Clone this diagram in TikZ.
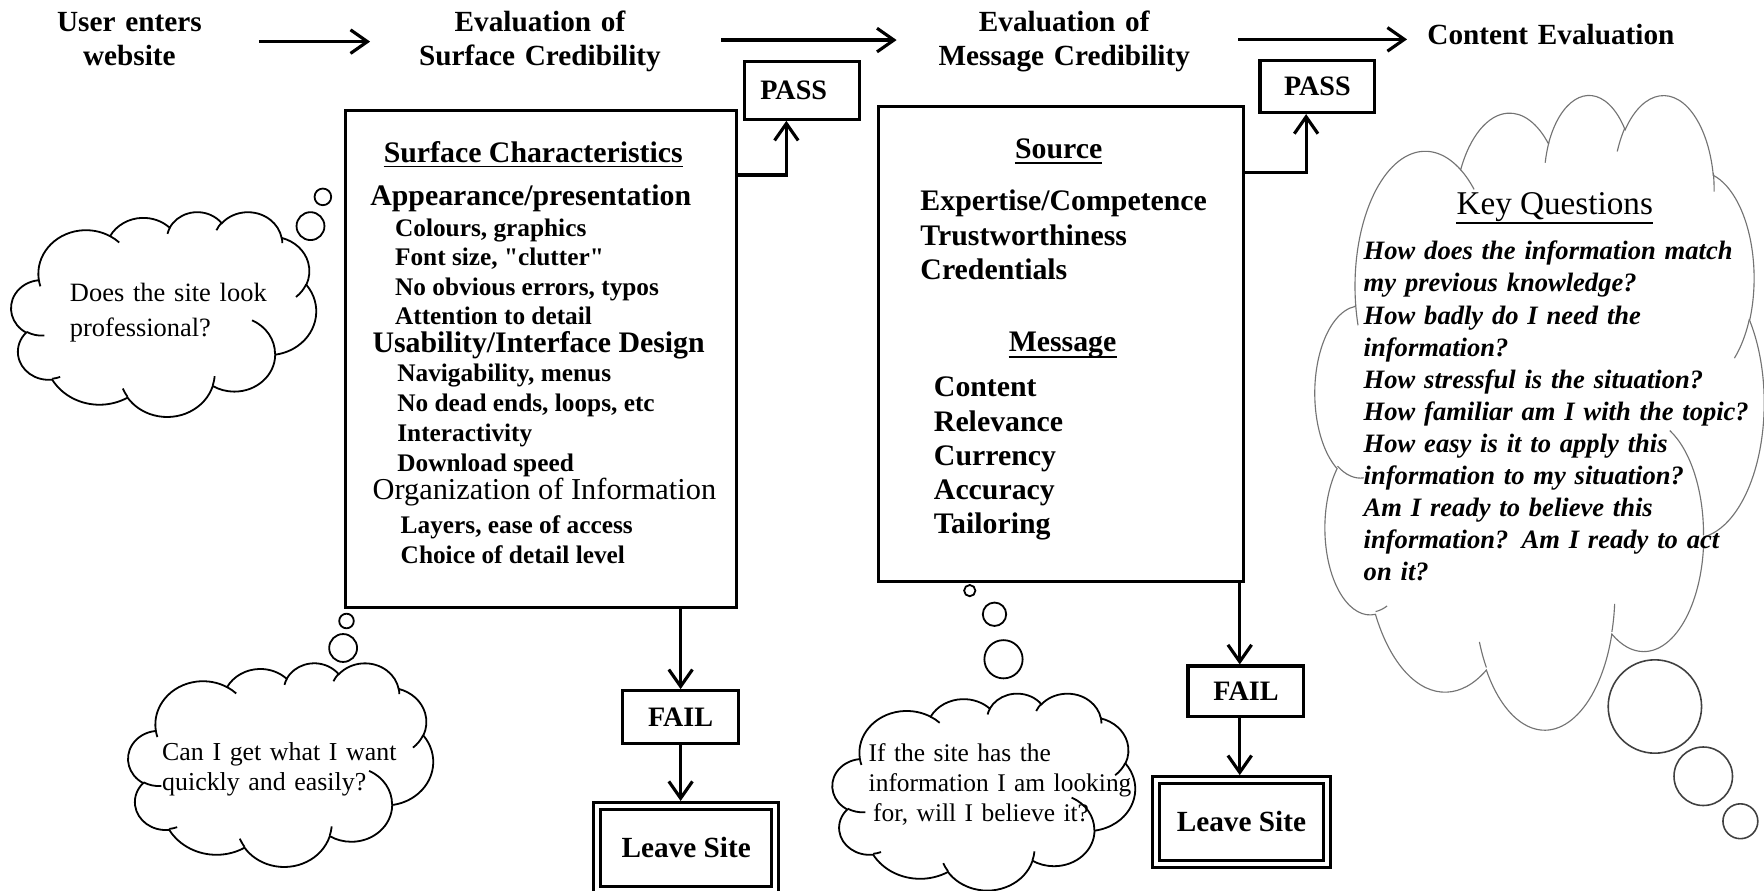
\documentclass[tikz,border=0pt]{standalone}
\usepackage{fontspec}
\setmainfont{Liberation Serif}
\newfontfamily\plainserif{Liberation Serif}[Ligatures=TeXOff]
\usetikzlibrary{arrows.meta}

% One arc of the cloud outline: radii and the visual start/sweep angles (degrees)
% are turned into the parametric angles that TikZ expects.
\newcommand\defcloudarc[5]{%
  \pgfmathsetmacro\ctS{atan2((#2)*sin(#4),(#3)*cos(#4))}%
  \pgfmathsetmacro\ctE{atan2((#2)*sin((#4)+(#5)),(#3)*cos((#4)+(#5)))}%
  \pgfmathsetmacro\ctD{mod(\ctE-\ctS+720,360)}%
  \expandafter\xdef\csname #1\endcsname{arc[start angle=\ctS, delta angle=\ctD, x radius=#2, y radius=#3]}%
}
% outline
\defcloudarc{wcA}{67.53}{91.90}{-190.4875}{123.7805}
\defcloudarc{wcB}{53.33}{72.67}{-144.1024}{89.9452}
\defcloudarc{wcC}{43.65}{59.45}{-145.8079}{99.7230}
\defcloudarc{wcD}{48.57}{65.95}{-130.9861}{117.2417}
\defcloudarc{wcE}{53.33}{72.73}{-78.7089}{109.0269}
\defcloudarc{wcF}{67.75}{92.20}{-46.2673}{130.2690}
\defcloudarc{wcG}{57.85}{78.67}{0.6250}{114.0333}
\defcloudarc{wcH}{67.52}{92.15}{22.4516}{115.1726}
\defcloudarc{wcI}{77.20}{105.43}{66.2426}{75.7110}
\defcloudarc{wcJ}{43.60}{59.18}{-274.9421}{146.7356}
\defcloudarc{wcK}{43.45}{59.45}{-246.8285}{152.5189}
% inner ticks
\defcloudarc{wtA}{43.45}{59.45}{86.7420}{26.4295}
\defcloudarc{wtB}{43.60}{59.18}{73.6105}{11.4475}
\defcloudarc{wtC}{67.52}{92.15}{137.6242}{14.0811}
\defcloudarc{wtD}{67.52}{92.15}{6.4533}{15.9984}
\defcloudarc{wtE}{57.85}{78.67}{-70.2924}{70.9174}
\defcloudarc{wtF}{53.33}{72.73}{30.3180}{27.7515}
\defcloudarc{wtG}{48.57}{65.95}{-13.7443}{14.8589}
\defcloudarc{wtH}{48.57}{65.95}{-149.1815}{18.1954}
\defcloudarc{wtI}{43.65}{59.45}{-163.4943}{17.6864}
\defcloudarc{wtJ}{67.53}{91.90}{-66.7070}{12.3194}
\defcloudarc{wtK}{67.53}{91.90}{157.6544}{11.8582}

% cloud in a 432 x 432 box, placed at (left, top) with the given width and height
\newcommand\cloudshape[5]{%
  \begin{scope}[shift={(#2,#3)},xscale=#4/432,yscale=#5/432,#1]
    \filldraw[fill=white] (39,143.7) \wcA\wcB\wcC\wcD\wcE\wcF\wcG\wcH\wcI\wcJ\wcK -- cycle;
    \draw (46.93,261.77) \wtA (69.28,348.99) \wtB (164.78,390.90) \wtC
          (288.27,347.51) \wtD (341.29,229.54) \wtE (417.98,153.54) \wtF
          (383.24,54.26) \wtG (290.78,39.52) \wtH (221.41,47.20) \wtI
          (140.00,51.92) \wtJ (41.27,157.89) \wtK;
  \end{scope}}

\begin{document}
\begin{tikzpicture}[x=1pt,y=-1pt,
  toplab/.style={anchor=base, inner sep=0pt, text width=300pt, align=center,
                 font=\bfseries\fontsize{26}{30}\selectfont},
  rbox/.style={draw, line width=2.8pt, inner sep=0pt},
  tag/.style={rbox, font=\bfseries\fontsize{25}{30}\selectfont},
  exitbox/.style={draw, line width=2.6pt, double, double distance=3.4pt,
                  outer sep=4.3pt, inner sep=0pt, font=\bfseries\fontsize{26}{30}\selectfont},
  flow/.style={line width=2.8pt, -{Straight Barb[length=15pt,width=21pt]}},
  head/.style={anchor=base west, inner sep=0pt, font=\bfseries\fontsize{26.5}{30}\selectfont},
  sub/.style={anchor=base west, inner sep=0pt, font=\bfseries\fontsize{22.5}{26}\selectfont},
  entry/.style={anchor=base west, inner sep=0pt, font=\bfseries\fontsize{26.5}{30}\selectfont},
  uline/.style={line width=1.6pt},
  thought/.style={anchor=base west, inner sep=0pt, align=left},
  smallcloud/.style={color=black, line width=1.6pt},
  bigcloud/.style={color=black!55, line width=1pt},
  bubble/.style={draw, line width=1.6pt},
  bigbubble/.style={draw=black!75, line width=1.4pt},
]
\path[fill=white] (0,0) rectangle (1568,792);
\useasboundingbox (0,0) rectangle (1568,792);

% ---- thought clouds
\cloudshape{smallcloud}{10}{188}{271}{182}
\cloudshape{smallcloud}{114}{589}{271}{181}
\cloudshape{smallcloud}{740}{616}{269}{175}
\cloudshape{bigcloud}{1169}{83}{399}{564}

\draw[bubble] (287,175) circle[radius=7.4];
\draw[bubble] (276,201) circle[radius=12.4];
\draw[bubble] (308,552) circle[radius=6.5];
\draw[bubble] (305,576) circle[radius=12.4];
\draw[bubble] (862,525) circle[radius=5];
\draw[bubble] (884,546) circle[radius=10.4];
\draw[bubble] (892,586) circle[radius=17];
\draw[bigbubble] (1471,628) circle[radius=41.5];
\draw[bigbubble] (1514,690) circle[radius=26];
\draw[bigbubble] (1547,730) circle[radius=15.5];

\node[thought, text width=220pt, font=\fontsize{23.5}{31}\selectfont] (t1) at (62,268)
  {Does the site look\\professional?};
\node[thought, text width=230pt, font=\fontsize{23}{26.7}\selectfont] (t2) at (144,675.6)
  {Can I get what I want\\quickly and easily?};
\node[thought, text width=240pt, font=\fontsize{22.6}{26.7}\selectfont] (t3) at (772,677)
  {If the site has the\\information I am looking\\\hspace*{4pt}for, will I believe it?};

% ---- stage labels along the top
\node[toplab] (lab1) at (115,28) {User enters\\website};
\node[toplab] (lab2) at (480,28) {Evaluation of\\Surface Credibility};
\node[toplab] (lab3) at (946,28) {Evaluation of\\Message Credibility};
\node[toplab] (lab4) at (1378.6,40) {Content Evaluation};

\coordinate (ta1) at (230,37);    \coordinate (tb1) at (329,37);
\coordinate (ta2) at (641,35.6);  \coordinate (tb2) at (797,35.6);
\coordinate (ta3) at (1100.5,35); \coordinate (tb3) at (1250.7,35);
\draw[flow] (ta1) -- (tb1);
\draw[flow] (ta2) -- (tb2);
\draw[flow] (ta3) -- (tb3);

% ---- boxes
\node[rbox, minimum width=348pt, minimum height=442pt] (box1) at (481,319) {};
\node[rbox, minimum width=324pt, minimum height=422pt] (box2) at (943,306) {};

\node[tag, minimum width=102pt, minimum height=51pt] (pass1) at (713,80.5) {PASS\hspace*{15pt}};
\node[tag, minimum width=102pt, minimum height=46pt] (pass2) at (1171,77) {PASS};
\node[tag, minimum width=103pt, minimum height=46.7pt] (fail1) at (605,637.3) {FAIL};
\node[tag, minimum width=103pt, minimum height=45pt] (fail2) at (1107.5,614.5) {FAIL};
\node[exitbox, minimum width=158.2pt, minimum height=74.4pt] (leave1) at (610,753.5) {Leave Site};
\node[exitbox, minimum width=152.4pt, minimum height=74.4pt] (leave2) at (1103.5,730.5) {Leave Site};

% ---- connectors
\coordinate (k1) at (699,155.6);
\draw[flow] (k1 -| box1.east) -- (k1) -- (k1 |- pass1.south);
\coordinate (k2) at (1161,153);
\draw[flow] (k2 -| box2.east) -- (k2) -- (k2 |- pass2.south);
\draw[flow] (box1.south -| fail1.north) -- (fail1.north);
\draw[flow] (fail1.south) -- (fail1.south |- leave1.north);
\coordinate (k3) at (1102,0);
\draw[flow] (box2.south -| k3) -- (fail2.north -| k3);
\draw[flow] (fail2.south -| k3) -- (leave2.north -| k3);

% ---- surface characteristics
\node[head, anchor=base] (sc) at (474,144) {Surface Characteristics};
\draw[uline] ([yshift=-4pt]sc.base west) -- ([yshift=-4pt]sc.base east);
\node[head] (a1) at (329,183) {Appearance/presentation};
\node[sub] (a2) at (351,210) {Colours, graphics};
\node[sub] (a3) at (351,236) {Font size, {\plainserif\bfseries "clutter"}};
\node[sub] (a4) at (351,262.5) {No obvious errors, typos};
\node[sub] (a5) at (351,288.5) {Attention to detail};
\node[head] (u1) at (331,313) {Usability/Interface Design};
\node[sub] (u2) at (353,339.5) {Navigability, menus};
\node[sub] (u3) at (353,366) {No dead ends, loops, etc};
\node[sub] (u4) at (353,392.6) {Interactivity};
\node[sub] (u5) at (353,419) {Download speed};
\node[head, font=\fontsize{27}{30}\selectfont] (o1) at (331,443.6) {Organization of Information};
\node[sub] (o2) at (356,474) {Layers, ease of access};
\node[sub] (o3) at (356,500.5) {Choice of detail level};

% ---- source and message
\node[entry, anchor=base] (src) at (941,140.7) {Source};
\draw[uline] ([yshift=-4pt]src.base west) -- ([yshift=-4pt]src.base east);
\node[entry] (b1) at (818,186.7) {Expertise/Competence};
\node[entry] (b2) at (818,217.8) {Trustworthiness};
\node[entry] (b3) at (818,248) {Credentials};
\node[entry, anchor=base] (msg) at (944.5,312.6) {Message};
\draw[uline] ([yshift=-5pt]msg.base west) -- ([yshift=-5pt]msg.base east);
\node[entry] (m1) at (830,352.6) {Content};
\node[entry] (m2) at (830,383.7) {Relevance};
\node[entry] (m3) at (830,414.2) {Currency};
\node[entry] (m4) at (830,444.4) {Accuracy};
\node[entry] (m5) at (830,474) {Tailoring};

% ---- key questions
\node[anchor=base, inner sep=0pt, font=\fontsize{29.5}{32}\selectfont] (kq) at (1382,191) {Key Questions};
\draw[uline] ([yshift=-7pt]kq.base west) -- ([yshift=-7pt]kq.base east);
\node[thought, text width=345pt, font=\bfseries\itshape\fontsize{23.6}{28.5}\selectfont] (kql) at (1212,231)
  {How does the information match\\my previous knowledge?\\How badly do I need the\\information?\\How stressful is the situation?\\How familiar am I with the topic?\\How easy is it to apply this\\information to my situation?\\Am I ready to believe this\\information? Am I ready to act\\on it?};
\end{tikzpicture}
\end{document}
